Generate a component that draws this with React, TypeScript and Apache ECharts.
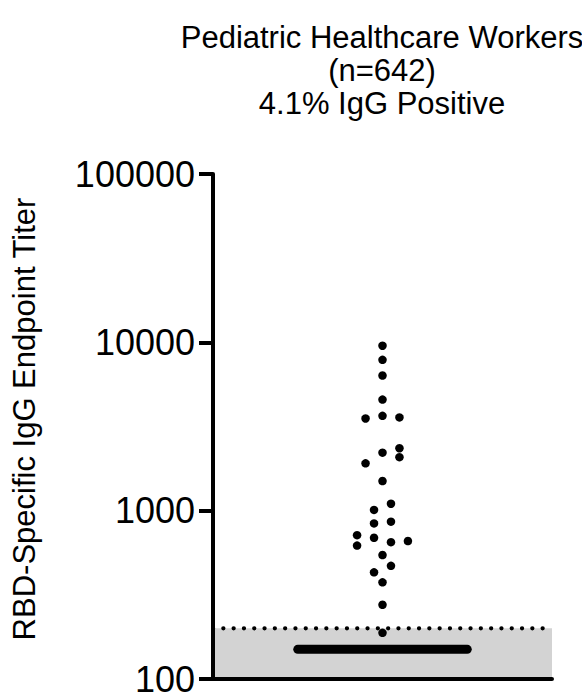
import React, { useEffect, useRef } from "react";
import * as echarts from "echarts";

const titleLines = ["Pediatric Healthcare Workers", "(n=642)", "4.1% IgG Positive"];
const yAxisName = "RBD-Specific IgG Endpoint Titer";
const yMin = 100;
const yMax = 100000;
const titers = [9550, 7870, 6350, 4570, 3530, 3660, 3580, 2350, 2210, 2080, 1910, 1500, 1100, 1010, 860, 840, 715, 690, 650, 660, 620, 545, 470, 430, 375, 276, 188];
const swarmOffsets = [0, 0, 0, 0, -0.1, 0, 0.1, 0.1, 0, 0.1, -0.1, 0, 0.05, -0.05, 0.05, -0.05, -0.15, -0.05, 0.05, 0.15, -0.15, 0, 0.05, -0.05, 0, 0, 0];
const threshold = 200;
const median = 150;
const medianHalfWidth = 0.5;

const FONT = "'Liberation Sans', Arial, Helvetica, sans-serif";

export default function App() {
  const ref = useRef<HTMLDivElement>(null);
  useEffect(() => {
    if (!ref.current) return;
    const chart = echarts.init(ref.current, undefined, { renderer: "svg" });
    const points = titers.map((v, i) => [swarmOffsets[i], v]);
    chart.setOption({
      animation: false,
      backgroundColor: "#ffffff",
      title: {
        text: titleLines.join("\n"),
        left: 377,
        top: 16,
        textAlign: "center",
        textStyle: {
          fontFamily: FONT,
          fontSize: 31,
          fontWeight: "normal",
          color: "#000",
          lineHeight: 33,
        },
      },
      graphic: [
        {
          type: "text",
          x: 24,
          y: 419,
          rotation: Math.PI / 2,
          style: {
            text: yAxisName,
            fontFamily: FONT,
            fontSize: 31,
            fill: "#000",
            align: "center",
            verticalAlign: "middle",
          },
        },
      ],
      grid: { left: 213, right: 30, top: 174, bottom: 15, containLabel: false },
      xAxis: {
        type: "value",
        min: -1,
        max: 1,
        z: 10,
        axisLine: { show: true, onZero: false, lineStyle: { color: "#000", width: 4 } },
        axisTick: { show: false },
        axisLabel: { show: false },
        splitLine: { show: false },
      },
      yAxis: {
        type: "log",
        logBase: 10,
        min: yMin,
        max: yMax,
        z: 10,
        axisLine: { show: true, onZero: false, lineStyle: { color: "#000", width: 4 } },
        axisTick: { show: true, length: 14, lineStyle: { color: "#000", width: 4 } },
        minorTick: { show: false },
        splitLine: { show: false },
        axisLabel: {
          fontFamily: FONT,
          fontSize: 36,
          color: "#000",
          margin: 18,
          formatter: (v: number) => String(Math.round(v)),
        },
      },
      series: [
        {
          type: "line",
          data: [[-1, threshold], [1, threshold]],
          symbol: "none",
          z: 3,
          lineStyle: { color: "#000", width: 4.2, type: [0.1, 10.2], cap: "round" },
          markArea: {
            silent: true,
            itemStyle: { color: "#d3d3d3" },
            data: [[{ xAxis: -1, yAxis: yMin }, { xAxis: 1, yAxis: threshold }]],
          },
        },
        {
          type: "line",
          data: [[-medianHalfWidth, median], [medianHalfWidth, median]],
          symbol: "none",
          z: 4,
          lineStyle: { color: "#000", width: 9, cap: "round" },
        },
        {
          type: "scatter",
          data: points,
          symbol: "circle",
          symbolSize: 8.5,
          z: 5,
          itemStyle: { color: "#000", opacity: 1 },
        },
      ],
    });
    return () => chart.dispose();
  }, []);
  return (
    <div
      ref={ref}
      style={{ position: "absolute", left: 0, top: 0, width: 582, height: 697 }}
    />
  );
}
